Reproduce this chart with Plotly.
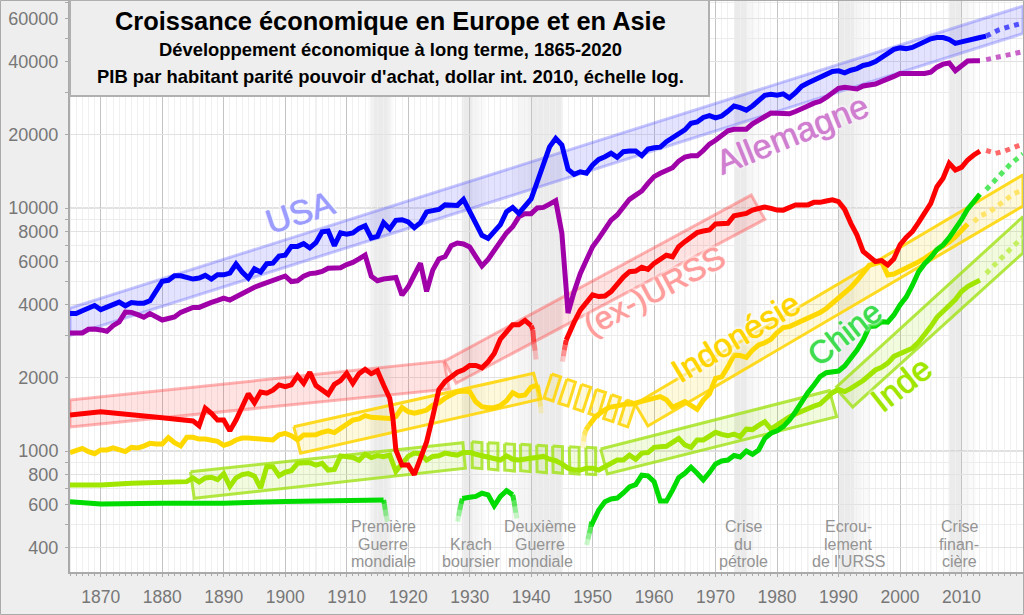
import plotly.graph_objects as go

FONT = "Liberation Sans"
W, H = 1024, 615
LEFT, RIGHT, TOP, BOTTOM = 70, 1023, 1, 572

# ---- series (dollar int. 2010)
usa_years = list(range(1865, 2015))
usa_vals = [3680, 3680, 3780, 3850, 3970,
            3820, 3910, 4000, 4100, 3960, 4080, 4060, 4060, 4150, 4570,
            4990, 5040, 5260, 5260, 5180, 5100, 5150, 5280, 5100, 5310,
            5310, 5400, 5880, 5450, 5150, 5620, 5450, 5900, 5930, 6340,
            6400, 6950, 6950, 7130, 6850, 7200, 7980, 8040, 7000, 7900,
            7800, 7900, 8250, 8450, 7530, 7650, 8700, 8200, 8900, 8950,
            8770, 8300, 8700, 9640, 9760, 9870, 10300, 10280, 10250, 10850,
            9600, 8700, 7720, 7500, 8050, 8550, 9650, 10050, 9500, 10250,
            10900, 12830, 15270, 17860, 19350, 18160, 14430, 13760, 14100, 13900,
            15030, 15860, 16260, 16800, 16160, 17060, 17160, 17160, 16420, 17500,
            17700, 17800, 18760, 19500, 20400, 20960, 22300, 22600, 23600, 24000,
            23500, 23900, 25000, 26300, 25900, 25300, 26300, 27800, 29100, 29400,
            29150, 29500, 28400, 29800, 31700, 32700, 33700, 34600, 35500, 36500,
            36700, 36000, 36900, 37500, 38600, 39100, 40100, 41800, 43200, 45000,
            45600, 45300, 45800, 47100, 48500, 49700, 50300, 50300, 49400, 47600,
            48300, 48800, 49700, 50300, 51000]
usa_next_years = [2014, 2016, 2018, 2020]
usa_next_vals = [51000, 54000, 56000, 57700]

ger_years = list(range(1865, 2014))
ger_vals = [3060, 3060, 3060, 3170, 3180,
            3150, 3110, 3280, 3400, 3730, 3720, 3640, 3550, 3680, 3560,
            3460, 3510, 3560, 3720, 3810, 3900, 3900, 3970, 4090, 4170,
            4260, 4180, 4310, 4480, 4580, 4720, 4830, 4930, 5030, 5150,
            5250, 4980, 5020, 5240, 5370, 5400, 5480, 5650, 5650, 5680,
            5850, 5970, 6170, 6400, 5240, 5020, 5100, 5120, 5180, 4380,
            4740, 5300, 5930, 4540, 5550, 6170, 6310, 7000, 7180, 7110,
            6910, 6310, 5770, 6150, 6730, 7280, 7900, 8370, 9200, 9480,
            9480, 10000, 10060, 10380, 10720, 7870, 3700, 4530, 5380, 6110,
            6930, 7500, 8250, 8920, 9360, 10130, 10860, 11300, 11750, 12630,
            13460, 13900, 14340, 14650, 15600, 16200, 16400, 16400, 17240, 18320,
            19000, 19800, 20800, 21100, 21100, 21100, 22200, 23000, 23800, 24600,
            24560, 24560, 24430, 24960, 25770, 26300, 27000, 27500, 28500, 29700,
            31100, 31400, 31100, 30900, 31800, 32100, 32400, 33200, 33900, 34800,
            35800, 35800, 35500, 35500, 35800, 36200, 38000, 39100, 39500, 36700,
            38300, 40300, 40400, 40400]
ger_next_years = [2014, 2017, 2020]
ger_next_vals = [40800, 42300, 44000]

urss_years_1 = [1865, 1870, 1880, 1885] + list(range(1886, 1918)) + [1917.5] + list(range(1918, 1941))
urss_vals_1 = [1406, 1450, 1370, 1330,
               1270, 1500, 1430, 1340, 1340,
               1210, 1340, 1520, 1720, 1580, 1750, 1730, 1780, 1870, 1840,
               1870, 2040, 1900, 2110, 1860, 1790, 1710, 1880, 1950, 2090,
               1900, 2080, 2170, 2080, 2140, 1870, 1650, 1380,
               1010, 875, 875, 800, 920, 1090, 1385, 1790, 1930, 2030, 2110, 2160,
               2250, 2250, 2200, 2330, 2520, 2890, 3100, 3310, 3310, 3450, 3280]
urss_years_2 = [1945.7] + list(range(1946, 2014))
urss_vals_2 = [2860, 2990, 3390, 3800, 4120,
               4390, 4320, 4340, 4530, 4900, 5200, 5470, 5500, 5700, 5590,
               5920, 6190, 6390, 6300, 6930, 7270, 7550, 7920, 8040, 8120,
               8590, 8650, 8650, 9300, 9450, 9500, 9810, 9970, 10100, 9970,
               9810, 9800, 10060, 10300, 10300, 10300, 10550, 10550, 10690, 10800,
               10620, 9870, 8650, 7740, 6630, 6290, 6020, 6080, 5830, 6180,
               7050, 7570, 7990, 8700, 9510, 10450, 12240, 13250, 15270, 14330,
               14700, 15770, 16530, 17160]
urss_next_years = [2014, 2015.5, 2017, 2018.5, 2020]
urss_next_vals = [17270, 16780, 17160, 17770, 18340]
urss_tail_a_years = [1940, 1940.27, 1940.43, 1940.65, 1940.8]
urss_tail_a_vals = [3280, 3150, 2820, 2590, 2380]
urss_tail_b_years = [1945.7, 1945.55, 1945.4, 1945.25, 1945.1]
urss_tail_b_vals = [2860, 2730, 2605, 2460, 2332]

indo_years_1 = list(range(1865, 1942))
indo_vals_1 = [985, 1000, 1025, 994, 975,
               1010, 1010, 1030, 1010, 994, 1035, 1030, 1048, 1075, 1068,
               1068, 1135, 1082, 1050, 1138, 1138, 1120, 1120, 1110, 1095,
               1055, 1075, 1110, 1130, 1130, 1124, 1120, 1120, 1110, 1165,
               1182, 1156, 1110, 1164, 1167, 1167, 1194, 1210, 1190, 1240,
               1300, 1340, 1355, 1398, 1376, 1376, 1372, 1362, 1384, 1510,
               1450, 1430, 1450, 1474, 1545, 1580, 1650, 1712, 1755, 1765,
               1755, 1595, 1523, 1507, 1507, 1538, 1610, 1738, 1685, 1700,
               1830, 1868]
indo_years_2 = [1949.45, 1950.5, 1951.6, 1952.7, 1954, 1955.4, 1956.8] + list(range(1957, 2012))
indo_vals_2 = [1280, 1385, 1455, 1512, 1533, 1560, 1560, 1574, 1600, 1630,
               1650, 1674, 1624, 1515, 1555, 1596, 1540, 1485, 1620, 1720,
               1990, 2020, 2220, 2480, 2470, 2430, 2600, 2730, 2790, 2880,
               3070, 3220, 3250, 3330, 3450, 3500, 3600, 3710, 3860, 4060,
               4250, 4450, 4710, 5030, 5450, 5810, 5900, 6000, 5300, 5350,
               5500, 5640, 5800, 6000, 6210, 6450, 6650, 6900, 7250, 7600,
               8050, 8600]
indo_next_years = [2012, 2013, 2014.6, 2016, 2017.2, 2018.6, 2020]
indo_next_vals = [8780, 9270, 9660, 10290, 10860, 11490, 11860]
indo_tail_a_years = [1941, 1941.2, 1941.4, 1941.55, 1941.65]
indo_tail_a_vals = [1868, 1755, 1621, 1522, 1429]
indo_tail_b_years = [1949.45, 1948.9, 1948.65, 1948.5, 1948.38]
indo_tail_b_vals = [1280, 1220, 1164, 1092, 1025]

china_years_1 = [1865, 1870, 1880, 1890, 1900, 1910, 1916]
china_vals_1 = [618, 605, 610, 610, 620, 628, 628]
china_years_2 = [1928.8] + list(range(1929, 1938))
china_vals_2 = [638, 640, 645, 650, 670, 660, 595, 650, 687, 660]
china_years_3 = [1949.84] + list(range(1950, 2014))
china_vals_3 = [512, 507, 572, 618, 635, 640, 672, 711, 727, 795, 790,
                748, 622, 622, 690, 776, 810, 857, 810, 760, 815,
                885, 910, 918, 958, 945, 1000, 970, 1010, 1127, 1183,
                1212, 1260, 1340, 1451, 1606, 1738, 1870, 2024, 2100, 2112,
                2133, 2237, 2405, 2603, 2860, 3250, 3270, 3406, 3390, 3630,
                3990, 4300, 4800, 5450, 5900, 6250, 6750, 7050, 7550, 8150,
                8950, 9900, 10700, 11400]
china_next_years = [2014, 2016, 2018, 2020]
china_next_vals = [11900, 13400, 15200, 16700]
china_tail_a_years = [1916, 1916.13, 1916.27, 1916.43, 1916.65]
china_tail_a_vals = [628, 605, 572, 540, 512]
china_tail_b_years = [1928.8, 1928.6, 1928.38, 1928.2, 1928.05]
china_tail_b_vals = [638, 605, 572, 540, 512]
china_tail_c_years = [1937, 1937.2, 1937.35, 1937.5, 1937.7]
china_tail_c_vals = [660, 624, 590, 557, 528]
china_tail_d_years = [1949.84, 1949.68, 1949.46, 1949.24, 1949.03]
china_tail_d_vals = [512, 485, 458, 434, 410]

india_years = [1865, 1870, 1875, 1880, 1884] + list(range(1885, 2014))
india_vals = [725, 725, 737, 745, 748, 775, 745, 775, 780, 762,
              806, 715, 775, 800, 807, 788, 704, 862, 862, 792,
              818, 830, 890, 895, 895, 875, 890, 835, 840, 955,
              948, 940, 916, 970, 940, 958, 948, 962, 825, 890,
              950, 980, 975, 918, 950, 955, 980, 970, 962, 987,
              987, 970, 956, 950, 933, 918, 955, 925, 918, 925,
              935, 935, 950, 925, 912, 885, 850, 835, 835, 850,
              850, 835, 862, 900, 918, 918, 962, 925, 980, 985,
              1035, 1040, 1045, 1085, 1127, 1060, 1035, 1110, 1110, 1150,
              1193, 1170, 1155, 1174, 1146, 1230, 1225, 1275, 1320, 1230,
              1280, 1340, 1380, 1420, 1460, 1498, 1530, 1560, 1650, 1738,
              1790, 1755, 1810, 1870, 1950, 2050, 2155, 2210, 2300, 2450,
              2520, 2580, 2650, 2800, 3000, 3250, 3550, 3740, 3950, 4200,
              4530, 4750, 4900, 5050]
india_next_years = [2014, 2016, 2018, 2020]
india_next_vals = [5380, 6000, 6800, 7600]

# ---- trend bands, corners as (years, values)
usa_band_years = [1865, 2020, 2020, 1865]
usa_band_vals = [3877, 67800, 52260, 2988]

urss_band_1_years = [1865, 1925.8, 1926.7, 1865]
urss_band_1_vals = [1621, 2345, 1800, 1255]
urss_band_2_years = [1925.9, 1975.8, 1978, 1927.8]
urss_band_2_vals = [2345, 11300, 8980, 1900]

indo_band_1_years = [1901.4, 1940.4, 1941.6, 1902.5]
indo_band_1_vals = [1259, 2087, 1637, 980]
indo_band_2_years = [1956.9, 2020, 2020, 1959]
indo_band_2_vals = [1562, 13690, 10190, 1267]
indo_hatch_years = [[1943.35, 1944.8, 1943.57, 1942.1],
                    [1945.8, 1947.2, 1946.0, 1944.5],
                    [1948.2, 1949.7, 1948.4, 1947.0],
                    [1950.6, 1952.1, 1950.9, 1949.4],
                    [1953.1, 1954.5, 1953.3, 1951.8],
                    [1955.5, 1957.0, 1955.7, 1954.3]]
indo_hatch_vals = [[2074, 2016, 1606, 1652],
                   [1975, 1920, 1529, 1573],
                   [1881, 1828, 1456, 1498],
                   [1791, 1741, 1387, 1427],
                   [1705, 1657, 1320, 1359],
                   [1624, 1578, 1257, 1293]]

india_band_1_years = [1884.6, 1928.9, 1929.3, 1885.2]
india_band_1_vals = [822, 1082, 849, 639]
india_band_2_years = [1951.3, 1988.5, 1989.7, 1952.4]
india_band_2_vals = [1019, 1771, 1385, 804]
india_band_3_years = [1989.5, 2020, 2020, 1992.3]
india_band_3_vals = [1817, 9220, 6530, 1517]
india_hatch_years = [[1930.38, 1932.0, 1932.0, 1930.43],
                     [1932.97, 1934.6, 1934.6, 1933.08],
                     [1935.68, 1937.3, 1937.3, 1935.7],
                     [1938.27, 1939.84, 1939.84, 1938.3],
                     [1940.9, 1942.5, 1942.5, 1940.97],
                     [1943.5, 1945.1, 1945.1, 1943.57],
                     [1946.2, 1947.8, 1947.8, 1946.3],
                     [1948.9, 1950.5, 1950.5, 1949.0]]
india_hatch_vals = [[1092, 1082, 846, 854],
                    [1082, 1076, 835, 843],
                    [1072, 1065, 827, 835],
                    [1065, 1059, 822, 830],
                    [1055, 1049, 814, 822],
                    [1049, 1042, 809, 817],
                    [1042, 1035, 804, 809],
                    [1035, 1029, 799, 804]]

# ---- crisis shading (nested rectangles make the soft edges)
shade_from = [1913.5, 1913.8, 1914.2, 1914.5,
              1928.7, 1928.7, 1928.7, 1928.7,
              1937.0, 1938.0, 1939.5, 1940.0,
              1973.0, 1973.0, 1973.0, 1973.0,
              1990.0, 1990.0, 1990.0, 1990.0,
              2007.9, 2007.9, 2007.9, 2007.9]
shade_to = [1917.6, 1917.3, 1916.9, 1916.6,
            1932.6, 1931.6, 1930.6, 1930.4,
            1945.0, 1945.0, 1945.0, 1945.0,
            1977.4, 1976.2, 1975.2, 1975.1,
            1994.9, 1993.7, 1992.6, 1992.5,
            2012.3, 2011.2, 2010.1, 2010.0]

crisis_lines = ["Première", "Guerre", "mondiale",
                "Krach", "boursier",
                "Deuxième", "Guerre", "mondiale",
                "Crise", "du", "pétrole",
                "Ecrou-", "lement", "de l'URSS",
                "Crise", "finan-", "cière"]
crisis_x = [383, 383, 383, 471, 471, 540, 540, 540, 743, 743, 743, 848, 848, 848, 959, 959, 959]
crisis_y = [526, 544, 561, 544, 561, 526, 544, 561, 526, 544, 561, 526, 544, 561, 526, 544, 561]

y_ticks = [400, 600, 800, 1000, 2000, 4000, 6000, 8000, 10000, 20000, 40000, 60000]
y_minor = [500, 700, 900, 3000, 5000, 7000, 9000, 30000, 50000, 70000]


def px_x(p):
    return (p - LEFT) / (RIGHT - LEFT)


def px_y(p):
    return (BOTTOM - p) / (BOTTOM - TOP)


def add_band(fig, years, vals, line, fill, width=3):
    fig.add_trace(go.Scatter(x=years + years[:1], y=vals + vals[:1], mode="lines", fill="toself",
                             fillcolor=fill, line=dict(color=line, width=width, simplify=False),
                             hoverinfo="skip", showlegend=False, cliponaxis=True))


def add_line(fig, years, vals, color):
    fig.add_trace(go.Scatter(x=years, y=vals, mode="lines", line=dict(color=color, width=5),
                             hoverinfo="skip", showlegend=False))


def add_dots(fig, years, vals, color):
    fig.add_trace(go.Scatter(x=years, y=vals, mode="lines", line=dict(color=color, width=5, dash="5px,5px"),
                             hoverinfo="skip", showlegend=False))


# the line fades out where the figures stop
def add_tail(fig, years, vals, rgb):
    n = len(years) - 1
    for i in range(n):
        alpha = 0.85 * (n - i) / n
        add_line(fig, years[i:i + 2], vals[i:i + 2], "rgba(%s,%.2f)" % (rgb, alpha))


fig = go.Figure()

BLUE_L, BLUE_F = "rgba(70,70,255,0.30)", "rgba(80,80,255,0.16)"
RED_L, RED_F = "rgba(255,60,60,0.38)", "rgba(255,40,40,0.13)"
YEL_L, YEL_F = "rgba(255,214,10,0.90)", "rgba(255,214,10,0.14)"
LIM_L, LIM_F = "rgba(160,226,20,0.80)", "rgba(160,226,20,0.14)"

add_band(fig, usa_band_years, usa_band_vals, BLUE_L, BLUE_F)
add_band(fig, urss_band_1_years, urss_band_1_vals, RED_L, RED_F)
add_band(fig, urss_band_2_years, urss_band_2_vals, RED_L, RED_F)
add_band(fig, india_band_1_years, india_band_1_vals, LIM_L, LIM_F)
add_band(fig, india_band_2_years, india_band_2_vals, LIM_L, LIM_F)
add_band(fig, india_band_3_years, india_band_3_vals, LIM_L, LIM_F)
for ys, vs in zip(india_hatch_years, india_hatch_vals):
    add_band(fig, ys, vs, LIM_L, LIM_F)
add_band(fig, indo_band_1_years, indo_band_1_vals, YEL_L, YEL_F)
add_band(fig, indo_band_2_years, indo_band_2_vals, YEL_L, YEL_F)
for ys, vs in zip(indo_hatch_years, indo_hatch_vals):
    add_band(fig, ys, vs, YEL_L, YEL_F)

add_line(fig, india_years, india_vals, "#a0e600")
add_dots(fig, india_next_years, india_next_vals, "#c4f060")

add_line(fig, indo_years_1, indo_vals_1, "#ffd800")
add_line(fig, indo_years_2, indo_vals_2, "#ffd800")
add_tail(fig, indo_tail_a_years, indo_tail_a_vals, "255,216,0")
add_tail(fig, indo_tail_b_years, indo_tail_b_vals, "255,216,0")
add_dots(fig, indo_next_years, indo_next_vals, "#ffe468")

add_line(fig, china_years_1, china_vals_1, "#00dc00")
add_line(fig, china_years_2, china_vals_2, "#00dc00")
add_line(fig, china_years_3, china_vals_3, "#00dc00")
add_tail(fig, china_tail_a_years, china_tail_a_vals, "0,220,0")
add_tail(fig, china_tail_b_years, china_tail_b_vals, "0,220,0")
add_tail(fig, china_tail_c_years, china_tail_c_vals, "0,220,0")
add_tail(fig, china_tail_d_years, china_tail_d_vals, "0,220,0")
add_dots(fig, china_next_years, china_next_vals, "#55e860")

add_line(fig, urss_years_1, urss_vals_1, "#ff0000")
add_line(fig, urss_years_2, urss_vals_2, "#ff0000")
add_tail(fig, urss_tail_a_years, urss_tail_a_vals, "255,0,0")
add_tail(fig, urss_tail_b_years, urss_tail_b_vals, "255,0,0")
add_dots(fig, urss_next_years, urss_next_vals, "#ff6868")

add_line(fig, ger_years, ger_vals, "#a000a8")
add_dots(fig, ger_next_years, ger_next_vals, "#c860c8")

add_line(fig, usa_years, usa_vals, "#0000ff")
add_dots(fig, usa_next_years, usa_next_vals, "#5050ff")

shapes = []
for x0, x1 in zip(shade_from, shade_to):
    shapes.append(dict(type="rect", xref="x", yref="paper", x0=x0, x1=x1, y0=0, y1=1, layer="between",
                       line_width=0, fillcolor="rgba(0,0,0,0.02)"))
# every fifth year is a bit stronger than the yearly grid
for yr in range(1865, 2021, 10):
    shapes.append(dict(type="line", xref="x", yref="paper", x0=yr, x1=yr, y0=0, y1=1, layer="between",
                       line=dict(color="#e0e0e0", width=1)))
for val in [1000, 10000]:
    shapes.append(dict(type="line", xref="paper", yref="y", x0=0, x1=1, y0=val, y1=val, layer="between",
                       line=dict(color="#c0c0c0", width=1)))
# outer frame and title box
shapes.append(dict(type="rect", xref="paper", yref="paper", x0=px_x(0.5), x1=px_x(W - 0.5), y0=px_y(H - 0.5),
                   y1=px_y(0.5), line=dict(color="#aaaaaa", width=1), fillcolor="rgba(0,0,0,0)", layer="above"))
shapes.append(dict(type="rect", xref="paper", yref="paper", x0=px_x(70), x1=px_x(709), y0=px_y(96), y1=px_y(0),
                   line=dict(color="#b0b0b0", width=2), fillcolor="#eeeeee", layer="above"))

annotations = []


def add_text(text, x, y, size, color, angle=0, bold=False, shadow="none"):
    annotations.append(dict(text="<b>%s</b>" % text if bold else text, xref="paper", yref="paper",
                            x=px_x(x), y=px_y(y), xanchor="center", yanchor="middle", showarrow=False,
                            textangle=angle, font=dict(family=FONT, size=size, color=color, shadow=shadow)))


# a thin shadow in the text colour thickens the glyphs, the white one is the halo
def label_shadow(color):
    return "0 0 1px %s, 0 0 1px %s, 0 0 4px #fff, 0 0 4px #fff, 0 0 4px #fff" % (color, color)


for txt, x, y in zip(crisis_lines, crisis_x, crisis_y):
    add_text(txt, x, y, 16, "#949494")

add_text("USA", 300, 212, 34, "#9c9cff", -18, shadow=label_shadow("#9c9cff"))
add_text("Allemagne", 792, 134, 34, "#d07fd0", -22, shadow=label_shadow("#d07fd0"))
add_text("(ex-)URSS", 654, 291, 32, "#ff9c9c", -28, shadow=label_shadow("#ff9c9c"))
add_text("Indonésie", 735, 337, 33, "#ffd400", -31, shadow=label_shadow("#ffd400"))
add_text("Chine", 845, 333, 32, "#40dc50", -38, shadow=label_shadow("#40dc50"))
add_text("Inde", 901, 384, 34, "#a0e600", -38, shadow=label_shadow("#a0e600"))

add_text("Croissance économique en Europe et en Asie", 390, 21, 25.4, "#000000", bold=True)
add_text("Développement économique à long terme, 1865-2020", 390, 50, 18.4, "#000000", bold=True)
add_text("PIB par habitant parité pouvoir d'achat, dollar int. 2010, échelle log.", 390, 76, 18.4, "#000000", bold=True)

fig.update_layout(
    width=W, height=H, autosize=False,
    margin=dict(l=LEFT, r=W - RIGHT, t=TOP, b=H - BOTTOM, pad=0),
    paper_bgcolor="#eeeeee", plot_bgcolor="#ffffff",
    showlegend=False, shapes=shapes, annotations=annotations,
    font=dict(family=FONT),
)
fig.update_xaxes(range=[1865, 2020], tick0=1870, dtick=10, showgrid=True, gridcolor="#c4c4c4", gridwidth=1,
                 showline=True, linecolor="#aaaaaa", linewidth=2, zeroline=False,
                 ticks="outside", ticklen=3, tickcolor="#aaaaaa", ticklabelstandoff=5,
                 tickfont=dict(family=FONT, size=17.5, color="#777777"),
                 minor=dict(dtick=1, tick0=1865, showgrid=True, gridcolor="#f0f0f0", ticks="outside",
                            ticklen=2, tickcolor="#aaaaaa"))
fig.update_yaxes(type="log", range=[2.502, 4.852], tickmode="array", tickvals=y_ticks,
                 ticktext=[str(v) for v in y_ticks], showgrid=True, gridcolor="#e2e2e2", gridwidth=1,
                 showline=True, linecolor="#aaaaaa", linewidth=2, zeroline=False,
                 ticks="outside", ticklen=3, tickcolor="#aaaaaa", ticklabelstandoff=3,
                 tickfont=dict(family=FONT, size=18, color="#777777"),
                 minor=dict(tickmode="array", tickvals=y_minor, showgrid=True, gridcolor="#ececec",
                            ticks="outside", ticklen=3, tickcolor="#aaaaaa"))

fig.write_html("out.html", config=dict(displayModeBar=False),
               post_script="document.body.style.margin='0';document.body.style.overflow='hidden';")
